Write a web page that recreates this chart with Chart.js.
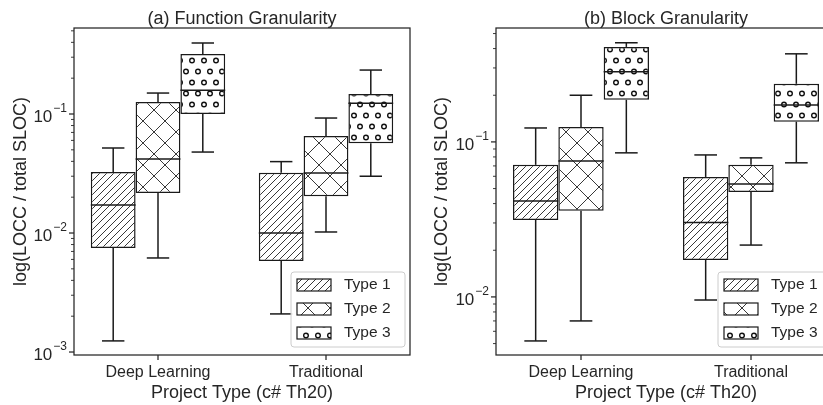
<!DOCTYPE html>
<html>
<head>
<meta charset="utf-8">
<script src="https://cdn.jsdelivr.net/npm/chart.js@4.4.0/dist/chart.umd.min.js"></script>
<style>
  html, body { margin: 0; padding: 0; background: #fff; overflow: hidden; width: 823px; height: 405px; }
  #plot-fn { position: absolute; left: 0; top: 0; }
  #plot-block { position: absolute; left: 412px; top: 0; }
</style>
</head>
<body>
<canvas id="plot-fn" width="412" height="405"></canvas>
<canvas id="plot-block" width="430" height="405"></canvas>
<script>
// Data. Each stat array is per type: [Deep Learning, Traditional]
const categories = ['Deep Learning', 'Traditional'];
const typeNames = ['Type 1', 'Type 2', 'Type 3'];

// (a) Function granularity
const fnLow    = [[0.00124, 0.00209], [0.00617, 0.0102], [0.0479, 0.030]];
const fnQ1     = [[0.00748, 0.00582], [0.0217, 0.0204], [0.100, 0.0569]];
const fnMedian = [[0.0172, 0.0100], [0.0419, 0.0319], [0.158, 0.123]];
const fnQ3     = [[0.0326, 0.0321], [0.126, 0.0653], [0.319, 0.147]];
const fnHigh   = [[0.0518, 0.0398], [0.150, 0.0925], [0.395, 0.234]];
const fnTickExps = [-3, -2, -1];

// (b) Block granularity
const blLow    = [[0.0052, 0.00955], [0.0070, 0.0216], [0.085, 0.0733]];
const blQ1     = [[0.0314, 0.0173], [0.0359, 0.0475], [0.187, 0.135]];
const blMedian = [[0.0416, 0.0302], [0.0753, 0.0536], [0.283, 0.173]];
const blQ3     = [[0.0711, 0.0594], [0.125, 0.0711], [0.41, 0.237]];
const blHigh   = [[0.123, 0.0824], [0.200, 0.0789], [0.436, 0.37]];
const blTickExps = [-2, -1];

const TXT = '#262626';
const FONT = "'Liberation Sans', Arial, sans-serif";
Chart.defaults.font.family = FONT;
Chart.defaults.color = TXT;

// hatch patterns: '///', 'x', 'o'
function makePattern(kind) {
  const c = document.createElement('canvas');
  const g = c.getContext('2d');
  if (kind === 'diag') {
    c.width = 7; c.height = 7;
    g.fillStyle = '#fff'; g.fillRect(0, 0, 7, 7);
    g.strokeStyle = '#222'; g.lineWidth = 0.9;
    for (const o of [-7, 0, 7]) { g.beginPath(); g.moveTo(o - 1, 8); g.lineTo(o + 8, -1); g.stroke(); }
  } else if (kind === 'cross') {
    c.width = 22; c.height = 22;
    g.fillStyle = '#fff'; g.fillRect(0, 0, 22, 22);
    g.strokeStyle = '#222'; g.lineWidth = 0.9;
    g.beginPath(); g.moveTo(-1, -1); g.lineTo(23, 23); g.stroke();
    g.beginPath(); g.moveTo(-1, 23); g.lineTo(23, -1); g.stroke();
  } else {
    c.width = 12; c.height = 22;
    g.fillStyle = '#fff'; g.fillRect(0, 0, 12, 22);
    g.strokeStyle = '#111'; g.lineWidth = 1.4;
    for (const [cx, cy] of [[6, 5.5], [0, 16.5], [12, 16.5]]) {
      g.beginPath(); g.arc(cx, cy, 2.3, 0, Math.PI * 2); g.stroke();
    }
  }
  return g.createPattern(c, 'repeat');
}
const patterns = [makePattern('diag'), makePattern('cross'), makePattern('circle')];

const panels = {
  'plot-fn': { title: '(a) Function Granularity', low: fnLow, q1: fnQ1, med: fnMedian, q3: fnQ3, high: fnHigh,
               exps: fnTickExps, yMin: 0.000944, yMax: 0.528, axisWidth: 74, padRight: 2, yTitlePad: 10, legendInset: 5 },
  'plot-block': { title: '(b) Block Granularity', low: blLow, q1: blQ1, med: blMedian, q3: blQ3, high: blHigh,
               exps: blTickExps, yMin: 0.00422, yMax: 0.543, axisWidth: 84, padRight: 6, yTitlePad: 19, legendInset: 4 }
};

function line(ctx, x1, y1, x2, y2) {
  ctx.beginPath(); ctx.moveTo(x1, y1); ctx.lineTo(x2, y2); ctx.stroke();
}

const boxPlugin = {
  id: 'boxExtras',
  afterDatasetsDraw(chart) {
    const p = panels[chart.canvas.id];
    const y = chart.scales.y, ctx = chart.ctx;
    ctx.save();
    ctx.strokeStyle = '#1a1a1a';
    ctx.lineWidth = 1.5;
    chart.data.datasets.forEach((ds, k) => {
      chart.getDatasetMeta(k).data.forEach((bar, i) => {
        const x = bar.x, w = bar.width;
        const yLo = y.getPixelForValue(p.low[k][i]);
        const yHi = y.getPixelForValue(p.high[k][i]);
        const yQ1 = y.getPixelForValue(p.q1[k][i]);
        const yQ3 = y.getPixelForValue(p.q3[k][i]);
        const yMed = y.getPixelForValue(p.med[k][i]);
        line(ctx, x, yQ1, x, yLo);
        line(ctx, x, yQ3, x, yHi);
        line(ctx, x - w / 4, yLo, x + w / 4, yLo);
        line(ctx, x - w / 4, yHi, x + w / 4, yHi);
        line(ctx, x - w / 2, yMed, x + w / 2, yMed);
      });
    });
    ctx.restore();
  },
  afterDraw(chart) {
    const p = panels[chart.canvas.id];
    const a = chart.chartArea, ctx = chart.ctx, y = chart.scales.y, x = chart.scales.x;
    ctx.save();
    // spines
    ctx.strokeStyle = TXT; ctx.lineWidth = 1.25;
    ctx.strokeRect(a.left, a.top, a.right - a.left, a.bottom - a.top);
    // x ticks
    categories.forEach((c, i) => {
      const px = x.getPixelForValue(i);
      line(ctx, px, a.bottom, px, a.bottom + 5);
    });
    // y ticks (log, major + minor)
    const e0 = Math.floor(Math.log10(p.yMin)), e1 = Math.ceil(Math.log10(p.yMax));
    for (let e = e0; e <= e1; e++) {
      for (let m = 1; m <= 9; m++) {
        const v = m * Math.pow(10, e);
        if (v < p.yMin || v > p.yMax) continue;
        const py = y.getPixelForValue(v);
        ctx.lineWidth = m === 1 ? 1.25 : 0.9;
        line(ctx, a.left - (m === 1 ? 5 : 3), py, a.left, py);
      }
    }
    // y tick labels 10^n
    ctx.fillStyle = TXT;
    ctx.textBaseline = 'middle';
    ctx.textAlign = 'left';
    p.exps.forEach(e => {
      const py = y.getPixelForValue(Math.pow(10, e));
      const sup = '\u2212' + Math.abs(e);
      ctx.font = '12px ' + FONT;
      const sw = ctx.measureText(sup).width;
      ctx.font = '17px ' + FONT;
      const bw = ctx.measureText('10').width;
      const right = a.left - 7;
      ctx.fillText('10', right - sw - bw - 1, py + 3);
      ctx.font = '12px ' + FONT;
      ctx.fillText(sup, right - sw, py - 5);
    });
    // title
    ctx.font = '18px ' + FONT;
    ctx.textAlign = 'center';
    ctx.textBaseline = 'alphabetic';
    ctx.fillText(p.title, (a.left + a.right) / 2, 24);
    // legend, lower right
    const lw = 114, lh = 75;
    const lx = a.right - p.legendInset - lw, ly = a.bottom - 8 - lh;
    ctx.beginPath();
    ctx.roundRect(lx, ly, lw, lh, 3);
    ctx.fillStyle = 'rgba(255,255,255,0.85)'; ctx.fill();
    ctx.strokeStyle = '#cccccc'; ctx.lineWidth = 1; ctx.stroke();
    typeNames.forEach((name, k) => {
      const cy = ly + 13 + k * 24;
      ctx.fillStyle = patterns[k];
      ctx.fillRect(lx + 6, cy - 6, 34, 12);
      ctx.strokeStyle = '#1a1a1a'; ctx.lineWidth = 1.2;
      ctx.strokeRect(lx + 6, cy - 6, 34, 12);
      ctx.fillStyle = TXT;
      ctx.font = '15.5px ' + FONT;
      ctx.textAlign = 'left';
      ctx.textBaseline = 'middle';
      ctx.fillText(name, lx + 53, cy);
    });
    ctx.restore();
  }
};

function makeChart(id) {
  const p = panels[id];
  const ctx = document.getElementById(id).getContext('2d');
  return new Chart(ctx, {
    type: 'bar',
    data: {
      labels: categories,
      datasets: typeNames.map((name, k) => ({
        label: name,
        data: p.q1[k].map((v, i) => [v, p.q3[k][i]]),
        backgroundColor: patterns[k],
        borderColor: '#1a1a1a',
        borderWidth: 1.5,
        borderSkipped: false,
        categoryPercentage: 0.8,
        barPercentage: 1.0
      }))
    },
    options: {
      responsive: false,
      animation: false,
      events: [],
      layout: { padding: { top: 28, right: p.padRight, bottom: 0, left: 0 } },
      plugins: { legend: { display: false }, tooltip: { enabled: false }, title: { display: false } },
      scales: {
        x: {
          grid: { display: false, drawTicks: false },
          border: { display: false },
          ticks: { font: { size: 16 }, padding: 8, color: TXT },
          title: { display: true, text: 'Project Type (c# Th20)', font: { size: 18 }, padding: { top: 0, bottom: 1 }, color: TXT },
          afterFit: s => { s.height = 50; }
        },
        y: {
          type: 'logarithmic',
          min: p.yMin, max: p.yMax,
          grid: { display: false, drawTicks: false },
          border: { display: false },
          ticks: { display: false },
          title: { display: true, text: 'log(LOCC / total SLOC)', font: { size: 18 }, padding: { top: p.yTitlePad, bottom: 0 }, color: TXT },
          afterFit: s => { s.width = p.axisWidth; }
        }
      }
    },
    plugins: [boxPlugin]
  });
}

makeChart('plot-fn');
makeChart('plot-block');
</script>
</body>
</html>
